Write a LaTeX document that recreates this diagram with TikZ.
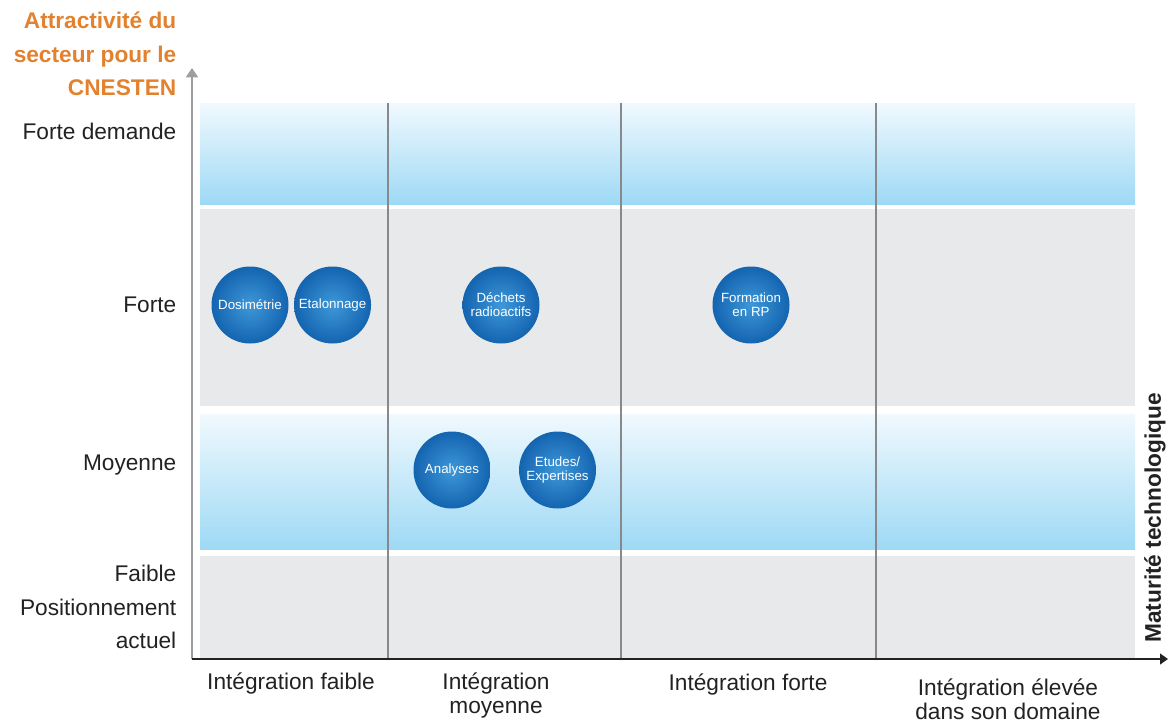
\documentclass[tikz,border=0pt]{standalone}
\usepackage{fontspec}
\setmainfont{Liberation Sans}
\usetikzlibrary{positioning,arrows.meta}
\definecolor{bandblue}{RGB}{158,217,245}
\definecolor{bandlight}{RGB}{240,249,254}
\definecolor{bandgrey}{RGB}{232,233,235}
\definecolor{axisgrey}{RGB}{155,157,161}
\definecolor{gridgrey}{RGB}{135,137,141}
\definecolor{titleorange}{RGB}{226,130,46}
\definecolor{ballblue}{RGB}{20,100,176}
\definecolor{balllight}{RGB}{62,152,216}
\definecolor{textdark}{RGB}{34,34,34}

\begin{document}
\begin{tikzpicture}[x=0.75pt, y=-0.75pt,
    ball/.style={circle, minimum size=57.75pt, inner sep=0pt, inner color=balllight, outer color=ballblue, text=white, font=\fontsize{10}{10.5}\selectfont, align=center},
    rowlabel/.style={anchor=east, text=textdark, font=\fontsize{17}{25}\selectfont, align=right},
    collabel/.style={text=textdark, font=\fontsize{17}{18}\selectfont, align=center}]
        \useasboundingbox (0,0) rectangle (1173,724);

        \shade [top color=bandlight, bottom color=bandblue] (200,103) rectangle (1135,204);
        \fill [bandgrey] (200,209) rectangle (1135,406);
        \shade [top color=bandlight, bottom color=bandblue] (200,414) rectangle (1135,549);
        \fill [bandgrey] (200,556) rectangle (1135,659);
        \foreach \x in {388,621,876}
            \draw [gridgrey, line width=1.5pt] (\x,103) -- (\x,659);

        \coordinate (origin) at (192,659);
        \coordinate (ytip) at (192,68);
        \coordinate (xtip) at (1168,659);
        \draw [axisgrey, line width=1.5pt, -{Triangle[width=9pt,length=7pt]}] (origin) -- (ytip);
        \draw [textdark, line width=1.5pt, -{Triangle[width=8pt,length=6pt]}] (origin) -- (xtip);

        \node [rowlabel, text=titleorange, font=\bfseries\fontsize{17}{25}\selectfont] (title) at (181,54) {Attractivité du\\secteur pour le\\CNESTEN};
        \node [rowlabel] (demande) at (181,131) {Forte demande};
        \node [rowlabel] (forte) at (181,305) {Forte};
        \node [rowlabel] (moyenne) at (181,465) {Moyenne};
        \node [rowlabel] (faible) at (181,607) {Faible\\Positionnement\\actuel};

        \node [collabel] (ifaible) at (291,683) {Intégration faible};
        \node [collabel] (imoyenne) at (496,695) {Intégration\\moyenne};
        \node [collabel] (iforte) at (748,684) {Intégration forte};
        \node [collabel] (ielevee) at (1008,699) {Intégration élevée\\dans son domaine};
        \node [text=textdark, font=\bfseries\fontsize{17}{18}\selectfont, rotate=90] (maturite) at (1155,518) {Maturité technologique};

        \node [ball] (dosi) at (250,305) {Dosimétrie};
        \node [ball, right=3.75pt of dosi] (etal) {Etalonnage};
        \node [ball] (dechets) at (501,305) {Déchets\\radioactifs};
        \node [ball] (formation) at (751,305) {Formation\\en RP};
        \node [ball] (analyses) at (452,470) {Analyses};
        \node [ball, right=21pt of analyses] (etudes) {Etudes/\\Expertises};
    \end{tikzpicture}
\end{document}
